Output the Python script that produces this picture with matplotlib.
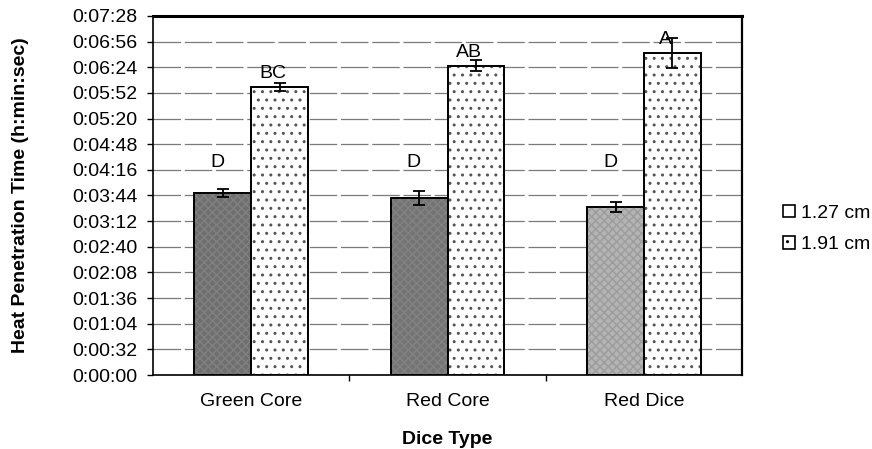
import numpy as np
import matplotlib
matplotlib.use("Agg")
import matplotlib.pyplot as plt
from matplotlib.patches import Patch
from matplotlib.ticker import FuncFormatter, MultipleLocator

# -----------------------------
# data (seconds)
# -----------------------------
dice_types = ["Green Core", "Red Core", "Red Dice"]
sizes = ["1.27 cm", "1.91 cm"]
time_127 = [227, 221, 210]
err_127 = [5, 9, 6]
time_191 = [359, 386, 402]
err_191 = [5, 7, 19]
letters_127 = ["D", "D", "D"]
letters_191 = ["BC", "AB", "A"]

plt.rcParams['font.family'] = ['Liberation Sans', 'DejaVu Sans']
plt.rcParams['hatch.linewidth'] = 1.0

fig = plt.figure(figsize=(8.72, 4.49), dpi=100)
ax = fig.add_axes([0.1755, 0.1648, 0.6755, 0.7996])

x = np.arange(len(dice_types))
w = 0.289
fill_127 = ['#6f6f6f', '#747474', '#b4b4b4']

ax.bar(x - w / 2, time_127, w, color=fill_127, edgecolor='black', linewidth=1.3, zorder=3)
# speckle-ish texture over the grey bars
ax.bar(x - w / 2, time_127, w, color='none', edgecolor='#8c8c8c', hatch='xxxx', linewidth=0, zorder=3, alpha=0.6)
ax.bar(x - w / 2, time_127, w, color='none', edgecolor='black', linewidth=1.3, zorder=3)

ax.bar(x + w / 2, time_191, w, color='white', edgecolor='black', linewidth=1.3, zorder=3)
# dotted fill for 1.91 cm, drawn as a second pass so the dots stay grey
ax.bar(x + w / 2, time_191, w, color='none', edgecolor='#555555', hatch='..', linewidth=0, zorder=3)
ax.bar(x + w / 2, time_191, w, color='none', edgecolor='black', linewidth=1.3, zorder=3)

ax.errorbar(x - w / 2, time_127, yerr=err_127, fmt='none', ecolor='black',
            elinewidth=1.3, capsize=4, capthick=1.3, zorder=4)
ax.errorbar(x + w / 2, time_191, yerr=err_191, fmt='none', ecolor='black',
            elinewidth=1.3, capsize=4, capthick=1.3, zorder=4)

# significance letters
for i in range(len(dice_types)):
    ax.annotate(letters_127[i], (x[i] - w / 2, 255), xytext=(-4, 0), textcoords='offset points',
                ha='center', va='bottom', fontsize=14)
    ax.annotate(letters_191[i], (x[i] + w / 2, time_191[i] + 6), xytext=(-5, 0),
                textcoords='offset points', ha='center', va='bottom', fontsize=14)

ax.set_xlim(-0.5, 2.5)
ax.set_ylim(0, 448)
ax.yaxis.set_major_locator(MultipleLocator(32))
ax.yaxis.set_major_formatter(FuncFormatter(lambda v, p: "0:%02d:%02d" % (int(v) // 60, int(v) % 60)))
ax.grid(axis='y', color='#7a7a7a', linewidth=0.9, linestyle=(0, (22, 3)), zorder=0)

ax.set_xticks(x)
ax.set_xticklabels(dice_types, fontsize=14)
ax.set_xticks([0.5, 1.5], minor=True)
ax.tick_params(axis='x', which='major', length=0, pad=13)
ax.tick_params(axis='x', which='minor', length=4, width=1, direction='out')
ax.tick_params(axis='y', labelsize=14, length=4, width=1, direction='out', pad=7)

for s in ['left', 'bottom']:
    ax.spines[s].set_linewidth(1.2)
ax.spines['top'].set_linewidth(2.2)
ax.spines['right'].set_linewidth(1.6)

ax.set_ylabel("Heat Penetration Time (h:min:sec)", fontsize=14, fontweight='bold')
ax.yaxis.set_label_coords(-0.21, 0.5)
ax.set_xlabel("Dice Type", fontsize=14, fontweight='bold', labelpad=15)

handles = [Patch(facecolor='white', edgecolor='black', linewidth=1.2),
           Patch(facecolor='white', edgecolor='black', hatch='..', linewidth=1.2)]
fig.legend(handles, sizes, loc='center left', bbox_to_anchor=(0.878, 0.49), frameon=False,
           fontsize=14, handlelength=0.6, handleheight=0.6, handletextpad=0.3, labelspacing=0.75)

fig.savefig("out.png", dpi=100, facecolor='white')
